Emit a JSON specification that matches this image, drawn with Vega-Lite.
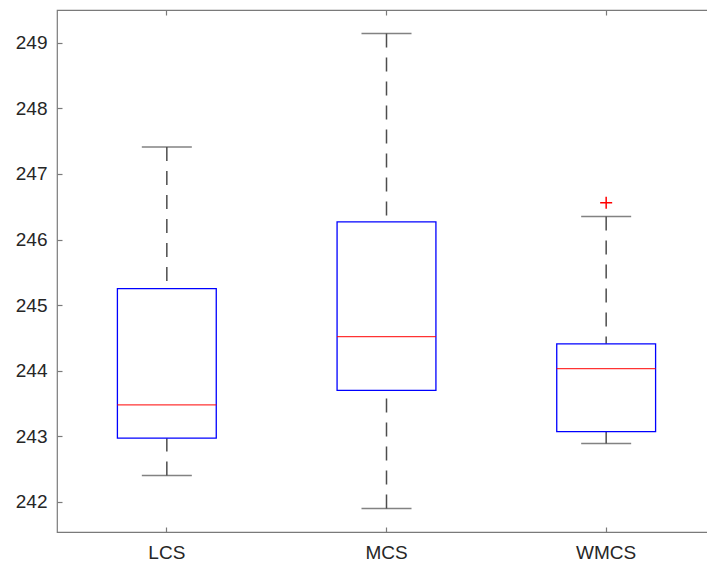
{
  "$schema": "https://vega.github.io/schema/vega-lite/v6.json",
  "width": 659,
  "height": 522,
  "autosize": {"type": "none"},
  "padding": {"left": 57, "top": 10, "right": 0, "bottom": 35},
  "background": "white",
  "datasets": {
    "boxes": [
      {"group": "LCS", "lo": 242.40, "q1": 242.97, "median": 243.48, "q3": 245.25, "hi": 247.41},
      {"group": "MCS", "lo": 241.90, "q1": 243.70, "median": 244.52, "q3": 246.27, "hi": 249.14},
      {"group": "WMCS", "lo": 242.89, "q1": 243.07, "median": 244.03, "q3": 244.41, "hi": 246.35}
    ],
    "outliers": [
      {"group": "WMCS", "value": 246.56}
    ]
  },
  "config": {
    "view": {"stroke": "#7a7a7a", "strokeWidth": 1.2},
    "axis": {
      "grid": false,
      "domain": false,
      "tickColor": "#7a7a7a",
      "tickWidth": 1.2,
      "tickSize": -5,
      "labelFont": "Liberation Sans",
      "labelFontSize": 19,
      "labelColor": "#262626",
      "title": null
    },
    "axisY": {"tickCount": 8, "labelPadding": 15},
    "axisX": {"labelPadding": 16, "labelAngle": 0}
  },
  "resolve": {"axis": {"x": "independent"}},
  "layer": [
    {
      "data": {"name": "boxes"},
      "mark": {"type": "rule", "color": "#4d4d4d", "strokeWidth": 1.5, "strokeDash": [14, 10]},
      "encoding": {
        "x": {"field": "group", "type": "nominal", "sort": ["LCS", "MCS", "WMCS"], "scale": {"paddingInner": 0, "paddingOuter": 0}, "axis": {"orient": "bottom"}},
        "y": {"field": "hi", "type": "quantitative", "scale": {"domain": [241.54, 249.5], "nice": false, "zero": false}, "axis": {"title": null}},
        "y2": {"field": "q3"}
      }
    },
    {
      "data": {"name": "boxes"},
      "mark": {"type": "rule", "color": "#4d4d4d", "strokeWidth": 1.5, "strokeDash": [14, 10]},
      "encoding": {
        "x": {"field": "group", "type": "nominal", "sort": ["LCS", "MCS", "WMCS"], "axis": {"orient": "top", "labels": false}},
        "y": {"field": "lo", "type": "quantitative", "axis": {"title": null}},
        "y2": {"field": "q1"}
      }
    },
    {
      "data": {"name": "boxes"},
      "mark": {"type": "tick", "color": "#4d4d4d", "size": 50, "thickness": 1.5},
      "encoding": {
        "x": {"field": "group", "type": "nominal", "sort": ["LCS", "MCS", "WMCS"], "axis": null},
        "y": {"field": "hi", "type": "quantitative", "axis": {"title": null}}
      }
    },
    {
      "data": {"name": "boxes"},
      "mark": {"type": "tick", "color": "#4d4d4d", "size": 50, "thickness": 1.5},
      "encoding": {
        "x": {"field": "group", "type": "nominal", "sort": ["LCS", "MCS", "WMCS"], "axis": null},
        "y": {"field": "lo", "type": "quantitative", "axis": {"title": null}}
      }
    },
    {
      "data": {"name": "boxes"},
      "mark": {"type": "bar", "fill": "white", "fillOpacity": 0, "stroke": "#0000ff", "strokeWidth": 1.3, "width": {"band": 0.45}},
      "encoding": {
        "x": {"field": "group", "type": "nominal", "sort": ["LCS", "MCS", "WMCS"], "axis": null},
        "y": {"field": "q1", "type": "quantitative", "axis": {"title": null}},
        "y2": {"field": "q3"}
      }
    },
    {
      "data": {"name": "boxes"},
      "mark": {"type": "tick", "color": "#ff0000", "size": 99, "thickness": 1.3, "opacity": 0.8},
      "encoding": {
        "x": {"field": "group", "type": "nominal", "sort": ["LCS", "MCS", "WMCS"], "axis": null},
        "y": {"field": "median", "type": "quantitative", "axis": {"title": null}}
      }
    },
    {
      "data": {"name": "outliers"},
      "mark": {"type": "point", "shape": "M-1,0H1M0,-1V1", "filled": false, "stroke": "#ff0000", "strokeWidth": 1.5, "size": 144, "opacity": 1},
      "encoding": {
        "x": {"field": "group", "type": "nominal", "sort": ["LCS", "MCS", "WMCS"], "axis": null},
        "y": {"field": "value", "type": "quantitative", "axis": {"title": null}}
      }
    }
  ]
}
